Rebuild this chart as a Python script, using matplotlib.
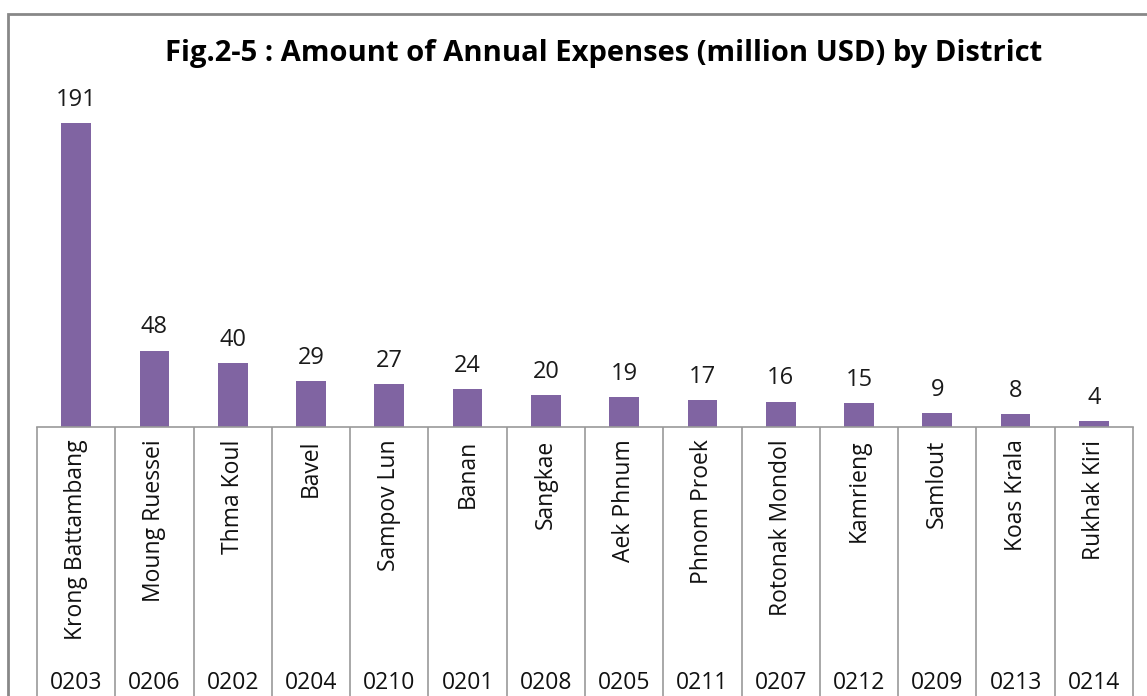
import matplotlib.pyplot as plt
from matplotlib.patches import Rectangle

# District expenses, million USD
districts = ['Krong Battambang', 'Moung Ruessei', 'Thma Koul', 'Bavel', 'Sampov Lun',
             'Banan', 'Sangkae', 'Aek Phnum', 'Phnom Proek', 'Rotonak Mondol',
             'Kamrieng', 'Samlout', 'Koas Krala', 'Rukhak Kiri']
codes = ['0203', '0206', '0202', '0204', '0210', '0201', '0208', '0205',
         '0211', '0207', '0212', '0209', '0213', '0214']
expenses = [191, 48, 40, 29, 27, 24, 20, 19, 17, 16, 15, 9, 8, 4]

plt.rcParams['font.family'] = ['Open Sans', 'DejaVu Sans']

fig = plt.figure(figsize=(11.47, 6.96), dpi=100)
ax = fig.add_axes([37 / 1147, 1 - 427 / 696, (1133 - 37) / 1147, (427 - 95) / 696])

x = range(len(districts))
ax.bar(x, expenses, width=0.38, color='#8064A2')
for i, v in zip(x, expenses):
    ax.text(i, v + 14.5, str(v), ha='center', va='center', fontsize=17, color='#1a1a1a')

ax.set_xlim(-0.5, len(districts) - 0.5)
ax.set_ylim(0, 208.5)
ax.set_xticks([])
ax.set_yticks([])
for s in ['left', 'right', 'top']:
    ax.spines[s].set_visible(False)
ax.spines['bottom'].set_color('#999999')
ax.spines['bottom'].set_linewidth(1.2)

# category table under the axis
trans = ax.get_xaxis_transform()
ax.vlines([i - 0.5 for i in range(len(districts) + 1)], -1, 0, transform=trans,
          color='#999999', lw=1.2, clip_on=False)
for i, (name, code) in enumerate(zip(districts, codes)):
    ax.text(i, -0.038, name, rotation=90, ha='center', va='top', fontsize=16.5,
            transform=trans, color='#111111')
    ax.text(i, -0.772, code, ha='center', va='center', fontsize=16.5,
            transform=trans, color='#111111')

fig.text(0.526, 1 - 54 / 696, 'Fig.2-5 : Amount of Annual Expenses (million USD) by District',
         ha='center', va='center', fontsize=21, fontweight='bold')

# outer chart border
fig.patches.append(Rectangle((8 / 1147, -0.1), 1.2, 1.1 - 14 / 696, transform=fig.transFigure,
                             fill=False, edgecolor='#888888', lw=2))

fig.savefig('out.png', dpi=100)
